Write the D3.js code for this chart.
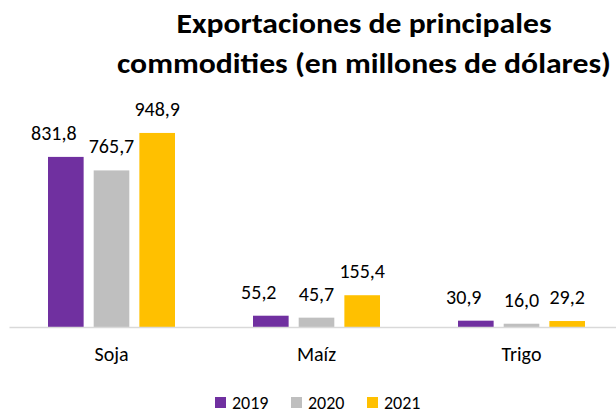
<!DOCTYPE html>
<html>
<head>
<meta charset="utf-8">
<script src="https://cdn.jsdelivr.net/npm/d3@7"></script>
<style>
  body { margin: 0; background: #fff; }
  svg { display: block; font-family: Carlito, Calibri, "Open Sans", sans-serif; }
</style>
</head>
<body>
<div class="bar-chart-container"></div>
<script>
// chart data
const categories = ["Soja", "Maíz", "Trigo"];
const series = ["2019", "2020", "2021"];
const values2019 = [831.8, 55.2, 30.9];
const values2020 = [765.7, 45.7, 16.0];
const values2021 = [948.9, 155.4, 29.2];
const titleLines = ["Exportaciones de principales", "commodities (en millones de dólares)"];

const width = 616;
const height = 413;
const colors = { "2019": "#7030A0", "2020": "#BFBFBF", "2021": "#FFC000" };
// Excel had the 2019 labels nudged to the left
const labelShift = { "2019": -12, "2020": 0, "2021": 0 };

const svg = d3.select(".bar-chart-container").append("svg")
    .attr("width", width)
    .attr("height", height);

// Title, two lines fitted to the reference widths
const titleWidths = [375, 494];
titleLines.forEach((line, i) => {
    svg.append("text")
        .attr("x", 364)
        .attr("y", 33 + i * 40)
        .attr("text-anchor", "middle")
        .attr("font-size", 28)
        .attr("font-weight", "bold")
        .attr("fill", "#000")
        .attr("textLength", titleWidths[i])
        .attr("lengthAdjust", "spacingAndGlyphs")
        .text(line);
});

// Scales
const xScale = d3.scaleBand()
    .domain(categories)
    .range([9, 624]);

const xInner = d3.scaleBand()
    .domain(series)
    .range([39, 166])
    .paddingInner(0.22);

const yScale = d3.scaleLinear()
    .domain([0, 1000])
    .range([327, 122.5]);

// Flatten values into one list of bars
const valuesBySeries = { "2019": values2019, "2020": values2020, "2021": values2021 };
const bars = [];
series.forEach(s => {
    categories.forEach((c, i) => {
        bars.push({ category: c, series: s, value: valuesBySeries[s][i] });
    });
});

// Bars
svg.selectAll("rect.bar")
    .data(bars)
    .enter()
    .append("rect")
    .attr("class", "bar")
    .attr("x", d => xScale(d.category) + xInner(d.series))
    .attr("y", d => yScale(d.value))
    .attr("width", xInner.bandwidth())
    .attr("height", d => yScale(0) - yScale(d.value))
    .attr("fill", d => colors[d.series]);

// Baseline axis
const xAxis = d3.axisBottom(xScale).tickSize(0).tickPadding(20);
const axisG = svg.append("g")
    .attr("transform", "translate(0," + yScale(0) + ")")
    .call(xAxis);
axisG.select(".domain").attr("stroke", "#d9d9d9").attr("stroke-width", 1.5);
axisG.selectAll(".tick text")
    .attr("font-size", 20)
    .attr("font-family", "Carlito, Calibri, 'Open Sans', sans-serif")
    .attr("fill", "#000");

// Value labels
svg.selectAll("text.value")
    .data(bars)
    .enter()
    .append("text")
    .attr("class", "value")
    .attr("x", d => xScale(d.category) + xInner(d.series) + xInner.bandwidth() / 2 + labelShift[d.series])
    .attr("y", d => yScale(d.value) - 17)
    .attr("text-anchor", "middle")
    .attr("font-size", 20)
    .attr("fill", "#000")
    .text(d => d3.format(".1f")(d.value).replace(".", ","));

// Legend
const legend = svg.append("g").attr("transform", "translate(215,397)");
const item = legend.selectAll("g")
    .data(series)
    .enter()
    .append("g")
    .attr("transform", (d, i) => "translate(" + i * 76 + ",0)");
item.append("rect")
    .attr("width", 11)
    .attr("height", 11)
    .attr("fill", d => colors[d]);
item.append("text")
    .attr("x", 17)
    .attr("y", 11.5)
    .attr("font-size", 18)
    .attr("fill", "#000")
    .text(d => d);
</script>
</body>
</html>
